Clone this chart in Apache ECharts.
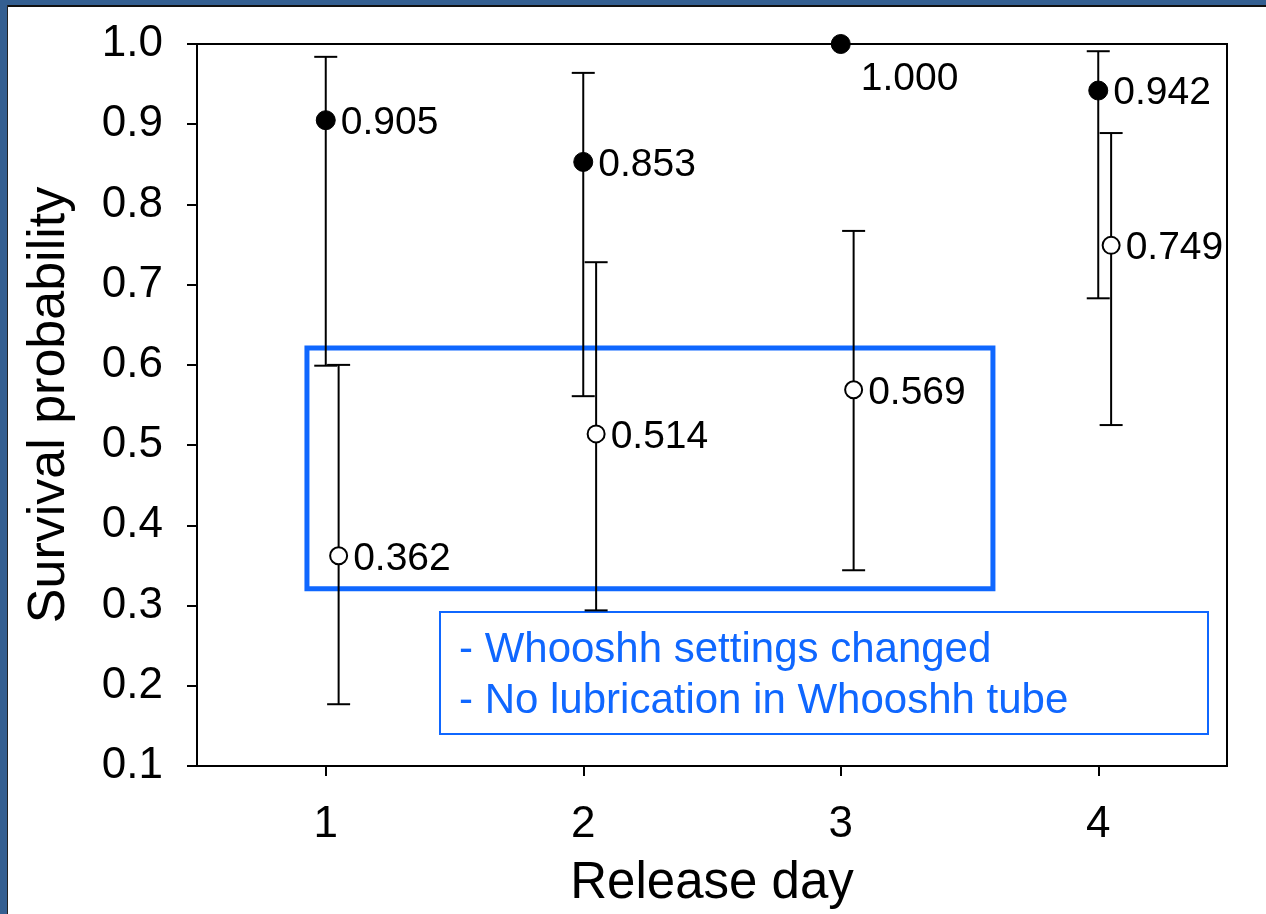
<!DOCTYPE html>
<html>
<head>
<meta charset="utf-8">
<script src="https://cdn.jsdelivr.net/npm/echarts@6/dist/echarts.min.js"></script>
<style>
  html, body { margin: 0; padding: 0; background: #fff; }
  #chart { position: absolute; left: 0; top: 0; width: 1266px; height: 914px; }
  .fr { position: absolute; pointer-events: none; }
</style>
</head>
<body>
<div id="chart"></div>
<div class="fr" style="left:0;top:0;width:1266px;height:5px;background:#345f91;"></div>
<div class="fr" style="left:0;top:0;width:7px;height:914px;background:#345f91;"></div>
<div class="fr" style="left:7px;top:5px;width:1259px;height:2px;background:#111;"></div>
<div class="fr" style="left:7px;top:5px;width:1px;height:909px;background:#222;"></div>
<script>
// ---- data ----
const days = [1, 2, 3, 4];
const dayLabels = ['1', '2', '3', '4'];
const closedEst  = [0.905, 0.853, 1.000, 0.942];
const closedLow  = [0.599, 0.561, null, 0.683];
const closedHigh = [0.984, 0.964, null, 0.991];
const openEst  = [0.362, 0.514, 0.569, 0.749];
const openLow  = [0.177, 0.294, 0.344, 0.525];
const openHigh = [0.600, 0.728, 0.767, 0.889];
const yTicks = [0.1, 0.2, 0.3, 0.4, 0.5, 0.6, 0.7, 0.8, 0.9, 1.0];
const noteLines = ['- Whooshh settings changed', '- No lubrication in Whooshh tube'];
const highlightRange = { x: [0.927, 3.591], y: [0.321, 0.621] };

// ---- styling ----
const FONT = '"Liberation Sans", Arial, sans-serif';
const BLUE = '#0f67ff';
const OPEN_OFFSET = 0.05;

const chart = echarts.init(document.getElementById('chart'), null, { renderer: 'canvas' });

function errRender(params, api) {
  const x = api.value(0), lo = api.value(1), hi = api.value(2);
  const a = api.coord([x, lo]), b = api.coord([x, hi]);
  const hw = 11.5;
  const st = { stroke: '#000', lineWidth: 2 };
  return {
    type: 'group',
    children: [
      { type: 'line', shape: { x1: a[0], y1: a[1], x2: b[0], y2: b[1] }, style: st },
      { type: 'line', shape: { x1: a[0] - hw, y1: a[1], x2: a[0] + hw, y2: a[1] }, style: st },
      { type: 'line', shape: { x1: b[0] - hw, y1: b[1], x2: b[0] + hw, y2: b[1] }, style: st }
    ]
  };
}

const closedErr = [], openErr = [];
days.forEach((d, i) => {
  if (closedLow[i] != null) closedErr.push([d, closedLow[i], closedHigh[i]]);
  openErr.push([d + OPEN_OFFSET, openLow[i], openHigh[i]]);
});

const labelBase = { show: true, position: 'right', distance: 5, offset: [0, 3], fontSize: 39, color: '#000', fontFamily: FONT,
  formatter: p => p.value[1].toFixed(3) };

const closedData = days.map((d, i) => {
  const item = { value: [d, closedEst[i]] };
  if (closedEst[i] >= 1) item.label = { offset: [5, 35] };
  return item;
});
const openData = days.map((d, i) => [d + OPEN_OFFSET, openEst[i]]);

chart.setOption({
  animation: false,
  backgroundColor: '#fff',
  grid: { left: 197, top: 44, right: 39, bottom: 148, show: true, borderColor: '#000', borderWidth: 2, backgroundColor: 'transparent', containLabel: false },
  xAxis: {
    type: 'value', min: 0.5, max: 4.5,
    name: 'Release day', nameLocation: 'middle', nameGap: 92,
    nameTextStyle: { fontSize: 51, color: '#000', fontFamily: FONT },
    axisLine: { show: true, lineStyle: { color: '#000', width: 2 } },
    axisTick: { show: true, inside: false, length: 10, lineStyle: { color: '#000', width: 2 }, customValues: days },
    axisLabel: { show: true, fontSize: 44, color: '#000', fontFamily: FONT, margin: 37, customValues: days,
      formatter: v => dayLabels[days.indexOf(Math.round(v))] },
    splitLine: { show: false }
  },
  yAxis: {
    type: 'value', min: 0.1, max: 1.0, interval: 0.1,
    name: 'Survival probability', nameLocation: 'middle', nameGap: 121, nameRotate: 90,
    nameTextStyle: { fontSize: 52, color: '#000', fontFamily: FONT },
    axisLine: { show: true, lineStyle: { color: '#000', width: 2 } },
    axisTick: { show: true, inside: false, length: 10, lineStyle: { color: '#000', width: 2 }, customValues: yTicks },
    axisLabel: { show: true, fontSize: 44, color: '#000', fontFamily: FONT, margin: 34, customValues: yTicks,
      formatter: v => v.toFixed(1) },
    splitLine: { show: false }
  },
  series: [
    { type: 'custom', name: 'closedErr', renderItem: errRender, data: closedErr, z: 3, clip: false,
      markArea: {
        silent: true,
        itemStyle: { color: 'rgba(0,0,0,0)', borderColor: BLUE, borderWidth: 5 },
        data: [[{ coord: [highlightRange.x[0], highlightRange.y[1]] }, { coord: [highlightRange.x[1], highlightRange.y[0]] }]]
      } },
    { type: 'custom', name: 'openErr', renderItem: errRender, data: openErr, z: 3, clip: false },
    { type: 'scatter', name: 'closed', data: closedData, symbol: 'circle', symbolSize: 19, z: 5, clip: false,
      itemStyle: { color: '#000', borderColor: '#000', borderWidth: 1, opacity: 1 }, label: labelBase },
    { type: 'scatter', name: 'open', data: openData, symbol: 'circle', symbolSize: 17, z: 5, clip: false,
      itemStyle: { color: '#fff', borderColor: '#000', borderWidth: 2, opacity: 1 }, label: labelBase }
  ],
  graphic: [
    { type: 'group', left: 439, top: 611, z: 100, children: [
      { type: 'rect', shape: { x: 0, y: 0, width: 768, height: 122 }, style: { fill: '#fff', stroke: BLUE, lineWidth: 2 } },
      { type: 'text', x: 19, y: 38, style: { text: noteLines[0], fill: BLUE, font: '42px ' + FONT, textVerticalAlign: 'middle' } },
      { type: 'text', x: 19, y: 89, style: { text: noteLines[1], fill: BLUE, font: '42px ' + FONT, textVerticalAlign: 'middle' } }
    ] }
  ]
});
</script>
</body>
</html>
